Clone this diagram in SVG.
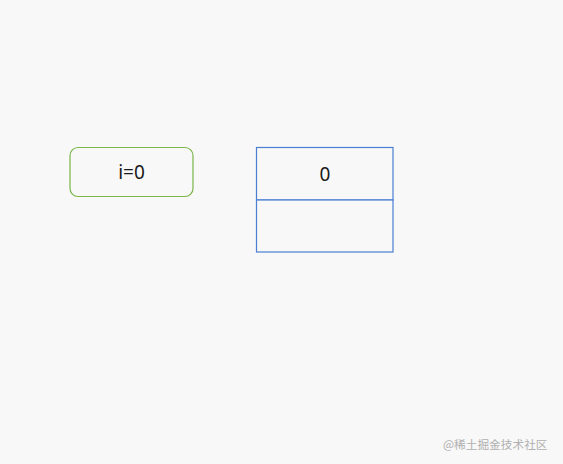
<svg xmlns="http://www.w3.org/2000/svg" width="563" height="464" viewBox="0 0 563 464">
<style>
.lbl{font-family:"Noto Sans","Liberation Sans",sans-serif;font-size:19px;fill:#1a1a1a;text-anchor:middle}
.cell{fill:#f8f8f8;stroke:#4a7fd4;stroke-width:1.2}
</style>
<rect width="563" height="464" fill="#f8f8f8"/>
<g id="var-i">
<rect x="70" y="147.5" width="123" height="49" rx="8" fill="#f8f8f8" stroke="#7ab648" stroke-width="1.2"/>
<text class="lbl" x="131.5" y="179">i=0</text>
</g>
<g id="stack">
<rect class="cell" x="256.5" y="147.5" width="136.5" height="52.5"/>
<rect class="cell" x="256.5" y="200" width="136.5" height="52"/>
<text class="lbl" x="325" y="181">0</text>
</g>
<g id="connectors"></g>
<text x="443" y="449" font-family="'Noto Sans CJK SC',sans-serif" font-size="11.7" fill="#b0b0b0">@稀土掘金技术社区</text>
</svg>
